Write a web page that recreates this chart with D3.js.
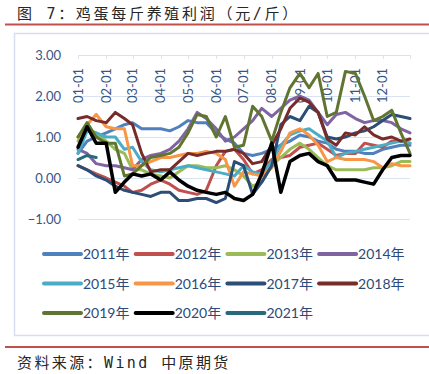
<!DOCTYPE html>
<html>
<head>
<meta charset="utf-8">
<script src="https://cdn.jsdelivr.net/npm/d3@7"></script>
<style>
body { margin: 0; background: #fff; }
</style>
</head>
<body>
<script>
// dekad sample dates (mm-dd) shared by every year
const dates = ["01-01","01-11","01-21","02-01","02-11","02-21","03-01","03-11","03-21",
  "04-01","04-11","04-21","05-01","05-11","05-21","06-01","06-11","06-21",
  "07-01","07-11","07-21","08-01","08-11","08-21","09-01","09-11","09-21",
  "10-01","10-11","10-21","11-01","11-11","11-21","12-01","12-11","12-21","12-31"];
const monthTicks = ["01-01","02-01","03-01","04-01","05-01","06-01",
  "07-01","08-01","09-01","10-01","11-01","12-01"];
const yTicks = [3, 2, 1, 0, -1];

const years = ["2011年","2012年","2013年","2014年","2015年","2016年",
  "2017年","2018年","2019年","2020年","2021年"];
const colors = ["#4f81bd","#c0504d","#9bbb59","#8064a2","#4bacc6","#f79646",
  "#2c4d75","#772c2a","#5f7530","#000000","#276a7c"];

const v2011 = [0.6,0.9,1.0,1.1,1.2,1.3,1.35,1.2,1.2,1.2,1.15,1.25,1.4,1.35,1.35,1.1,0.95,0.85,0.6,0.55,0.6,0.7,0.8,0.9,1.05,1.0,0.9,0.85,0.7,0.65,0.65,0.6,0.6,0.7,0.75,0.8,0.8];
const v2012 = [0.3,0.2,0.1,0.0,-0.1,-0.2,-0.35,-0.3,-0.15,-0.05,-0.15,-0.3,-0.35,-0.4,-0.3,0.3,0.65,0.7,0.45,0.1,0.2,0.45,0.5,0.55,0.75,0.8,0.85,0.7,0.55,0.6,0.6,0.85,0.8,0.75,0.9,0.9,0.85];
const v2013 = [0.9,1.2,1.1,0.9,0.7,0.6,0.2,0.2,0.1,0.05,0.0,0.15,0.3,0.3,0.25,0.25,0.3,0.2,0.05,-0.2,-0.1,0.3,0.5,0.7,0.85,0.7,0.5,0.3,0.2,0.2,0.2,0.2,0.25,0.25,0.3,0.4,0.4];
const v2014 = [0.7,0.6,0.35,0.3,0.3,0.25,0.2,0.45,0.55,0.6,0.7,0.9,1.2,1.6,1.45,1.2,0.9,1.0,1.2,1.4,1.7,1.5,1.7,1.9,2.0,1.9,1.6,1.3,1.55,1.6,1.45,1.35,1.4,1.4,1.35,1.2,1.1];
const v2015 = [0.6,1.15,1.1,1.0,1.0,0.7,0.75,0.4,0.2,0.15,0.2,0.25,0.3,0.25,0.2,0.15,0.1,0.05,0.3,0.15,0.1,0.4,0.8,1.05,1.15,1.2,1.05,0.9,0.5,0.6,0.65,0.7,0.75,0.8,0.85,0.9,0.85];
const v2016 = [1.0,1.3,1.55,1.25,1.2,1.2,0.3,0.3,0.4,0.5,0.5,0.55,0.6,0.6,0.65,0.6,0.45,-0.2,0.15,0.1,0.05,0.25,0.65,1.1,1.2,1.05,0.8,0.4,0.5,0.45,0.45,0.45,0.4,0.25,0.35,0.3,0.3];
const v2017 = [0.3,0.2,0.05,-0.05,-0.2,-0.3,-0.35,-0.4,-0.45,-0.35,-0.35,-0.55,-0.55,-0.5,-0.5,-0.6,-0.5,0.4,0.3,-0.4,-0.1,0.3,1.3,1.5,1.4,1.75,1.6,1.0,0.95,1.0,1.1,1.15,1.25,1.4,1.55,1.5,1.45];
const v2018 = [1.45,1.5,1.4,1.35,1.6,1.45,1.3,0.6,0.15,0.2,0.2,0.4,0.6,0.55,0.6,0.65,0.65,0.7,0.6,0.35,0.4,0.8,1.2,1.7,1.95,1.85,1.6,0.95,0.8,1.1,1.05,1.25,1.05,0.95,1.0,0.9,0.95];
const v2019 = [1.0,1.35,1.0,0.85,0.85,0.05,0.1,0.3,0.5,0.55,0.6,0.75,1.1,1.55,1.5,1.0,1.5,0.75,0.8,1.75,1.5,0.9,1.6,2.2,2.55,2.2,2.55,1.5,1.6,2.6,2.55,2.0,1.4,1.5,1.65,1.1,0.6];
const v2020 = [0.75,1.25,0.85,0.85,-0.35,-0.1,0.1,0.05,0.1,-0.05,0.15,-0.05,-0.2,-0.3,-0.35,-0.4,-0.35,-0.5,-0.55,-0.4,0.1,0.85,-0.35,0.4,0.55,0.6,0.4,0.3,-0.05,-0.05,-0.05,-0.1,-0.15,0.2,0.5,0.55,0.55];
const v2021 = [0.45,0.55,0.5];

const seriesValues = [v2011,v2012,v2013,v2014,v2015,v2016,v2017,v2018,v2019,v2020,v2021];

const W = 429, H = 374;
const cjk = "'Noto Sans CJK SC', sans-serif";
const mono = "'DejaVu Sans Mono', 'Noto Sans CJK SC', monospace";
const num = "Lato, 'Noto Sans', sans-serif";
const labelColor = "#3a5683";

const svg = d3.select("body").append("svg")
  .attr("width", W).attr("height", H);

// title + rules
svg.append("text")
  .attr("x", 17).attr("y", 19)
  .attr("font-family", mono).attr("font-size", 15)
  .attr("letter-spacing", 2.7)
  .attr("fill", "#262626")
  .text("图 7：鸡蛋每斤养殖利润（元/斤）");
svg.append("line").attr("x1", 5).attr("x2", W).attr("y1", 24.5).attr("y2", 24.5)
  .attr("stroke", "#c0504d").attr("stroke-width", 2);

// chart frame
svg.append("rect").attr("x", 14.5).attr("y", 33.5).attr("width", 430).attr("height", 302)
  .attr("fill", "none").attr("stroke", "#d5dff0").attr("stroke-width", 1.5);

const parse = d3.timeParse("%Y-%m-%d");
const toDate = s => parse("2000-" + s);

const x = d3.scaleTime()
  .domain([toDate("01-01"), toDate("12-31")])
  .range([78, 410]);
const y = d3.scaleLinear().domain([-1, 3]).range([219, 55]);

// grid
svg.append("g").selectAll("line").data(yTicks).join("line")
  .attr("x1", 78).attr("x2", 410)
  .attr("y1", d => y(d) + 0.5).attr("y2", d => y(d) + 0.5)
  .attr("stroke", "#d9e3f3").attr("stroke-width", 1);

// y labels
svg.append("g").selectAll("text").data(yTicks).join("text")
  .attr("x", 61).attr("y", d => y(d))
  .attr("dy", "0.35em").attr("text-anchor", "end")
  .attr("font-family", num).attr("font-size", 13)
  .attr("fill", labelColor)
  .text(d => d3.format(".2f")(d));

// category axis sits on top (y = 3.00)
const tickDates = monthTicks.map(toDate).concat([toDate("12-31")]);
svg.append("g").selectAll("line").data(tickDates).join("line")
  .attr("x1", d => Math.round(x(d)) + 0.5).attr("x2", d => Math.round(x(d)) + 0.5)
  .attr("y1", y(3)).attr("y2", y(3) + 4)
  .attr("stroke", "#d9e3f3");
svg.append("g").selectAll("text").data(monthTicks).join("text")
  .attr("transform", d => `translate(${x(toDate(d))},68) rotate(-90)`)
  .attr("dy", "0.35em").attr("text-anchor", "end")
  .attr("font-family", num).attr("font-size", 13)
  .attr("fill", labelColor)
  .text(d => d);

// lines
const line = d3.line()
  .x((d, i) => x(toDate(dates[i])))
  .y(d => y(d));

svg.append("g").selectAll("path").data(seriesValues).join("path")
  .attr("d", d => line(d))
  .attr("fill", "none")
  .attr("stroke", (d, i) => colors[i])
  .attr("stroke-width", (d, i) => i === 9 ? 3.5 : 3)
  .attr("stroke-linejoin", "round")
  .attr("stroke-linecap", "round");

// legend
const leg = svg.append("g").selectAll("g").data(years).join("g")
  .attr("transform", (d, i) => `translate(${44 + (i % 4) * 91.7},${254 + Math.floor(i / 4) * 29.5})`);
leg.append("line").attr("x1", 0).attr("x2", 37)
  .attr("stroke", (d, i) => colors[i]).attr("stroke-width", 4)
  .attr("stroke-linecap", "round");
leg.append("text").attr("x", 39).attr("dy", "0.36em")
  .attr("font-family", num + ", " + cjk).attr("font-size", 14)
  .attr("fill", "#2b4a7a")
  .text(d => d);

// source
svg.append("line").attr("x1", 5).attr("x2", W).attr("y1", 347).attr("y2", 347)
  .attr("stroke", "#c0504d").attr("stroke-width", 2);
svg.append("text")
  .attr("x", 17).attr("y", 368)
  .attr("font-family", mono).attr("font-size", 15)
  .attr("letter-spacing", 2.4)
  .attr("fill", "#262626")
  .text("资料来源：Wind 中原期货");
</script>
</body>
</html>
